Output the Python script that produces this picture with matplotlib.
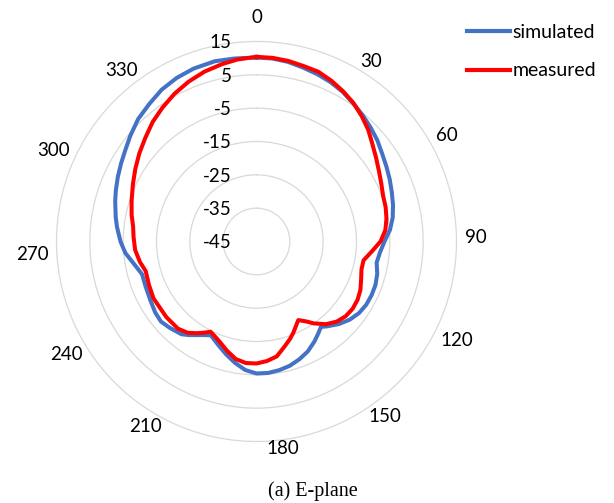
import numpy as np
import matplotlib
matplotlib.use("Agg")
import matplotlib.pyplot as plt
from matplotlib.transforms import offset_copy

# E-plane radiation pattern, gain in dB against angle in degrees
sim_deg = [0, 5, 10, 15, 20, 25, 30, 35, 40, 45, 50, 55, 60, 65, 70, 75, 80, 85,
           90, 95, 100, 105, 110, 115, 120, 125, 130, 135, 140, 143, 146, 150,
           155, 160, 165, 170, 175, 180, 185, 190, 195, 200, 206, 210, 213, 216,
           219, 225, 230, 235, 241, 248, 254, 260, 265, 270, 276, 280, 286, 290,
           295, 300, 305, 310, 316, 322, 328, 334, 340, 347, 353]
sim_db = [10.2, 10.1, 9.7, 9.0, 8.4, 7.7, 6.8, 5.6, 4.5, 3.4, 2.3, 1.0, 0.0, -0.9,
          -1.8, -2.6, -3.5, -4.8, -6.6, -7.8, -8.4, -7.5, -7.0, -6.9, -7.0, -7.5,
          -8.5, -10.0, -11.8, -12.9, -11.8, -10.3, -8.6, -7.4, -6.4, -5.8, -5.4,
          -5.4, -6.3, -8.0, -9.9, -11.8, -13.7, -12.6, -11.5, -10.3, -9.2, -8.3,
          -7.6, -7.9, -8.6, -9.1, -9.3, -7.5, -5.5, -4.2, -2.9, -2.1, -0.9, -0.1,
          0.9, 1.9, 3.0, 4.4, 6.1, 7.3, 8.7, 9.6, 10.2, 10.5, 10.3]

meas_deg = [0, 5, 10, 15, 20, 25, 30, 35, 40, 45, 50, 55, 60, 65, 70, 75, 80, 85,
            90, 95, 100, 105, 110, 115, 120, 125, 130, 135, 140, 145, 148, 152,
            155, 158, 161, 165, 170, 175, 180, 185, 190, 195, 200, 204, 207, 210,
            213, 217, 222, 230, 241, 248, 255, 260, 266, 272, 277, 282, 288, 295,
            301, 307, 313, 319, 325, 331, 337, 343, 349, 354]
meas_db = [10.4, 10.3, 10.0, 9.5, 9.2, 8.2, 7.0, 5.7, 4.1, 2.4, 0.4, -1.2, -2.6,
           -3.7, -4.6, -4.9, -5.4, -6.2, -7.8, -10.3, -12.4, -12.4, -11.6, -10.6,
           -10.0, -9.8, -10.1, -11.0, -12.6, -15.0, -16.7, -18.3, -17.0, -15.5,
           -14.1, -12.4, -10.0, -9.0, -8.4, -8.4, -9.2, -11.0, -12.9, -14.0, -14.6,
           -13.4, -12.2, -10.7, -9.8, -9.7, -9.7, -10.2, -10.6, -9.5, -8.5, -8.1,
           -7.7, -6.7, -5.6, -4.1, -2.6, -1.0, 0.6, 2.5, 4.1, 5.7, 7.1, 8.3, 9.2,
           9.9]

ring_values = [15, 5, -5, -15, -25, -35, -45]
angle_labels = ['0', '30', '60', '90', '120', '150', '180', '210', '240',
                '270', '300', '330']

# where the angle labels sit: (direction in degrees, distance from centre in px)
label_spots = [(0, 223.5), (32.5, 213), (61, 218), (89, 219.5), (116.2, 223.4),
               (143.8, 217.5), (172.7, 209), (211.1, 215.6), (239.1, 221),
               (266.8, 224.8), (294.2, 223), (321.7, 217.6)]

BLUE = '#4472C4'
RED = '#FF0000'
GRID = '#D9D9D9'
r_min, r_max = -45, 15
px_per_db = 200 / (r_max - r_min)


def closed(deg, vals):
    th = np.deg2rad(np.append(deg, deg[0]))
    return th, np.append(vals, vals[0])


fig = plt.figure(figsize=(6.14, 5.03), dpi=100)
ax = fig.add_axes([0.092, 0.1223, 0.6515, 0.7952], projection='polar')
ax.set_theta_zero_location('N')
ax.set_theta_direction(-1)
ax.set_ylim(r_min, r_max)

th, r = closed(sim_deg, sim_db)
ax.plot(th, r, color=BLUE, lw=2.9, label='simulated', solid_joinstyle='round')
th, r = closed(meas_deg, meas_db)
ax.plot(th, r, color=RED, lw=2.9, label='measured', solid_joinstyle='round')

ax.set_xticks([])
ax.set_yticks(ring_values[1:-1])
ax.set_yticklabels([])
ax.yaxis.grid(True, color=GRID, lw=0.9)
ax.spines['polar'].set_color(GRID)
ax.spines['polar'].set_linewidth(0.9)
ax.tick_params(length=0)

lab_font = dict(family='Lato', size=13.5, color='black')
shift = offset_copy(ax.transData, fig=fig, x=-24.8, y=-1.5, units='dots')
for v in ring_values:
    ax.text(0, v, str(v), transform=shift, ha='right', va='center', **lab_font)

for txt, (ang, dist) in zip(angle_labels, label_spots):
    ax.text(np.deg2rad(ang), r_min + dist / px_per_db, txt, ha='center',
            va='center', clip_on=False, **lab_font)

leg = fig.legend(loc='upper left', bbox_to_anchor=(457 / 614, 1 - 14 / 503),
                 frameon=False, handlelength=2.25, handletextpad=0.12,
                 labelspacing=1.12, borderpad=0,
                 prop={'family': 'Lato', 'size': 14})
for line in leg.get_lines():
    line.set_linewidth(3.0)

fig.text(312.5 / 614, 1 - 491 / 503, '(a) E-plane', family='Liberation Serif',
         size=14.5, ha='center', va='center')

fig.savefig('out.png', dpi=100)
